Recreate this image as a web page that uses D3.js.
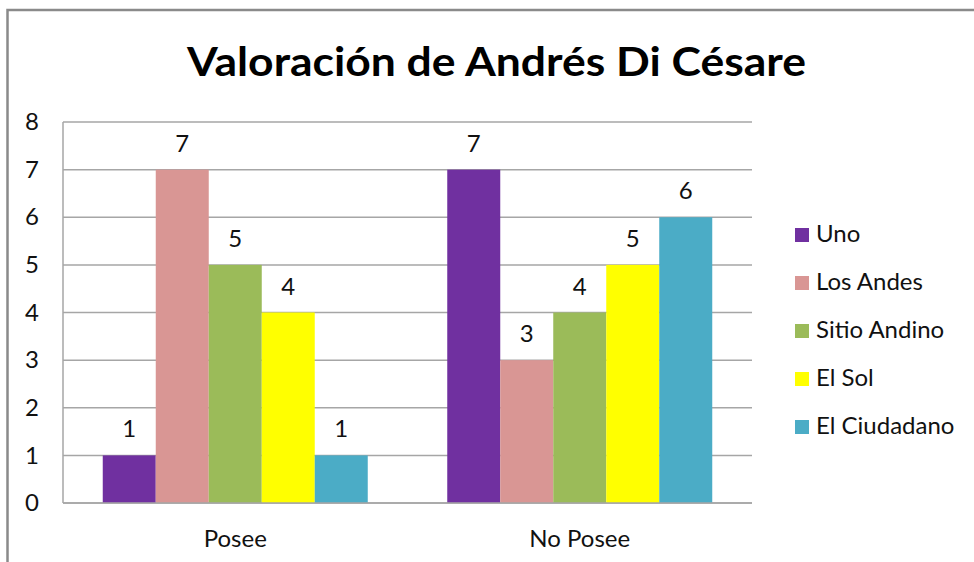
<!DOCTYPE html>
<html><head><meta charset="utf-8">
<script src="https://cdn.jsdelivr.net/npm/d3@7"></script>
<style>body{margin:0;background:#fff;} svg{display:block;}</style>
</head><body>
<svg id="c" width="974" height="562"></svg>
<script>
const categories = ["Posee", "No Posee"];
const seriesNames = ["Uno", "Los Andes", "Sitio Andino", "El Sol", "El Ciudadano"];
const uno = [1, 7];
const losAndes = [7, 3];
const sitioAndino = [5, 4];
const elSol = [4, 5];
const elCiudadano = [1, 6];
const yTicks = [0, 1, 2, 3, 4, 5, 6, 7, 8];
const colors = ["#7030A0", "#D99694", "#9BBB59", "#FFFF00", "#4BACC6"];
const seriesValues = [uno, losAndes, sitioAndino, elSol, elCiudadano];

const svg = d3.select("#c");
const font = "Lato, 'Open Sans', sans-serif";
const pLeft = 63, pRight = 752, pTop = 122, pBottom = 503;
const fs = 24;

// outer border
svg.append("rect").attr("x", 7.5).attr("y", 10).attr("width", 1000).attr("height", 600)
  .attr("fill", "#fff").attr("stroke", "#8a8a8a").attr("stroke-width", 2.5);

svg.append("text").attr("x", 496.5).attr("y", 76).attr("text-anchor", "middle")
  .attr("font-family", font).attr("font-weight", "bold").attr("font-size", 41)
  .attr("textLength", 619).attr("lengthAdjust", "spacingAndGlyphs")
  .attr("fill", "#000").text("Valoración de Andrés Di Césare");

const y = d3.scaleLinear().domain([0, 8]).range([pBottom, pTop]);
const x0 = d3.scaleBand().domain(categories).range([pLeft, pRight]).padding(0);
const x1 = d3.scaleBand().domain(seriesNames).range([0, x0.bandwidth()]).paddingInner(0).paddingOuter(0.75);

// gridlines
svg.append("g").selectAll("line").data(yTicks).join("line")
  .attr("x1", pLeft).attr("x2", pRight).attr("y1", d => y(d)).attr("y2", d => y(d))
  .attr("stroke", "#a6a6a6").attr("stroke-width", 1.5);
svg.append("line").attr("x1", pLeft).attr("x2", pLeft).attr("y1", pTop).attr("y2", pBottom)
  .attr("stroke", "#a6a6a6").attr("stroke-width", 1.5);

// y axis labels
const yAxis = d3.axisLeft(y).tickValues(yTicks).tickSize(0).tickPadding(24).tickFormat(d3.format("d"));
const ga = svg.append("g").attr("transform", `translate(${pLeft},0)`).call(yAxis);
ga.select(".domain").remove();
ga.selectAll("text").attr("font-family", font).attr("font-size", fs).attr("fill", "#111");

// bars
const data = [];
categories.forEach((c, ci) => seriesNames.forEach((s, si) => data.push({c, s, v: seriesValues[si][ci], color: colors[si]})));
svg.append("g").selectAll("rect").data(data).join("rect")
  .attr("x", d => x0(d.c) + x1(d.s)).attr("width", x1.bandwidth())
  .attr("y", d => y(d.v)).attr("height", d => y(0) - y(d.v)).attr("fill", d => d.color);

// bottom axis line on top of bars
svg.append("line").attr("x1", pLeft).attr("x2", pRight).attr("y1", pBottom).attr("y2", pBottom)
  .attr("stroke", "#a6a6a6").attr("stroke-width", 1.5);

// data labels
svg.append("g").selectAll("text").data(data).join("text")
  .attr("x", d => x0(d.c) + x1(d.s) + x1.bandwidth() / 2).attr("y", d => y(d.v) - 18)
  .attr("text-anchor", "middle").attr("font-family", font).attr("font-size", fs).attr("fill", "#111")
  .text(d => d.v);

// category labels
svg.append("g").selectAll("text").data(categories).join("text")
  .attr("x", d => x0(d) + x0.bandwidth() / 2).attr("y", 547).attr("text-anchor", "middle")
  .attr("font-family", font).attr("font-size", fs).attr("fill", "#111").text(d => d);

// legend
const lg = svg.append("g").selectAll("g").data(seriesNames).join("g")
  .attr("transform", (d, i) => `translate(795,${228 + i * 48})`);
lg.append("rect").attr("width", 14).attr("height", 14).attr("fill", (d, i) => colors[i]);
lg.append("text").attr("x", 21).attr("y", 14).attr("font-family", font).attr("font-size", fs)
  .attr("fill", "#111").text(d => d);
</script>
</body></html>
